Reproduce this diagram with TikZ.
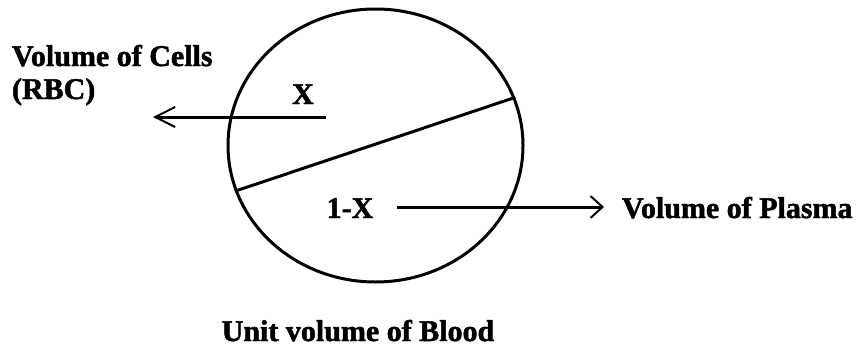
\documentclass[tikz,border=0pt]{standalone}
\usepackage{fontspec}
\setmainfont{Liberation Serif}[BoldFeatures={FakeBold=1.6}]
\usetikzlibrary{shapes.geometric,arrows.meta}
\begin{document}
\begin{tikzpicture}[x=1pt,y=-1pt,
  lbl/.style={font=\fontsize{30}{33}\selectfont\bfseries, inner sep=0pt, outer sep=0pt},
  stroke/.style={line width=3pt},
  leftarrow/.style={stroke, -{Straight Barb[length=20pt,width=20pt,line width=2pt]}},
  rightarrow/.style={stroke, -{Straight Barb[length=12pt,width=22pt,line width=2pt]}}]
\useasboundingbox[fill=white] (0,0) rectangle (864,348);
% unit volume of blood
\node[ellipse, draw, stroke, minimum width=295pt, minimum height=273pt, inner sep=0pt] (blood) at (375.5,145.5) {};
\draw[stroke] (blood.198) -- (blood.19);
% labels
\node[lbl, anchor=base] (x) at (303,104) {X};
\node[lbl, anchor=base] (onex) at (350,218) {1-X};
\node[lbl, anchor=base west] (cells1) at (12,66) {Volume of Cells};
\node[lbl, anchor=base west] (cells2) at (12,99) {(RBC)};
\node[lbl, anchor=base west] (plasma) at (622,218) {Volume of Plasma};
\node[lbl, anchor=base] (unit) at (358,341) {Unit volume of Blood};
% arrows
\coordinate (ls) at (326,117);
\coordinate (le) at (153,117);
\coordinate (rs) at (397,207);
\coordinate (re) at (604,207);
\draw[leftarrow] (ls) -- (le);
\draw[rightarrow] (rs) -- (re);
\end{tikzpicture}
\end{document}
